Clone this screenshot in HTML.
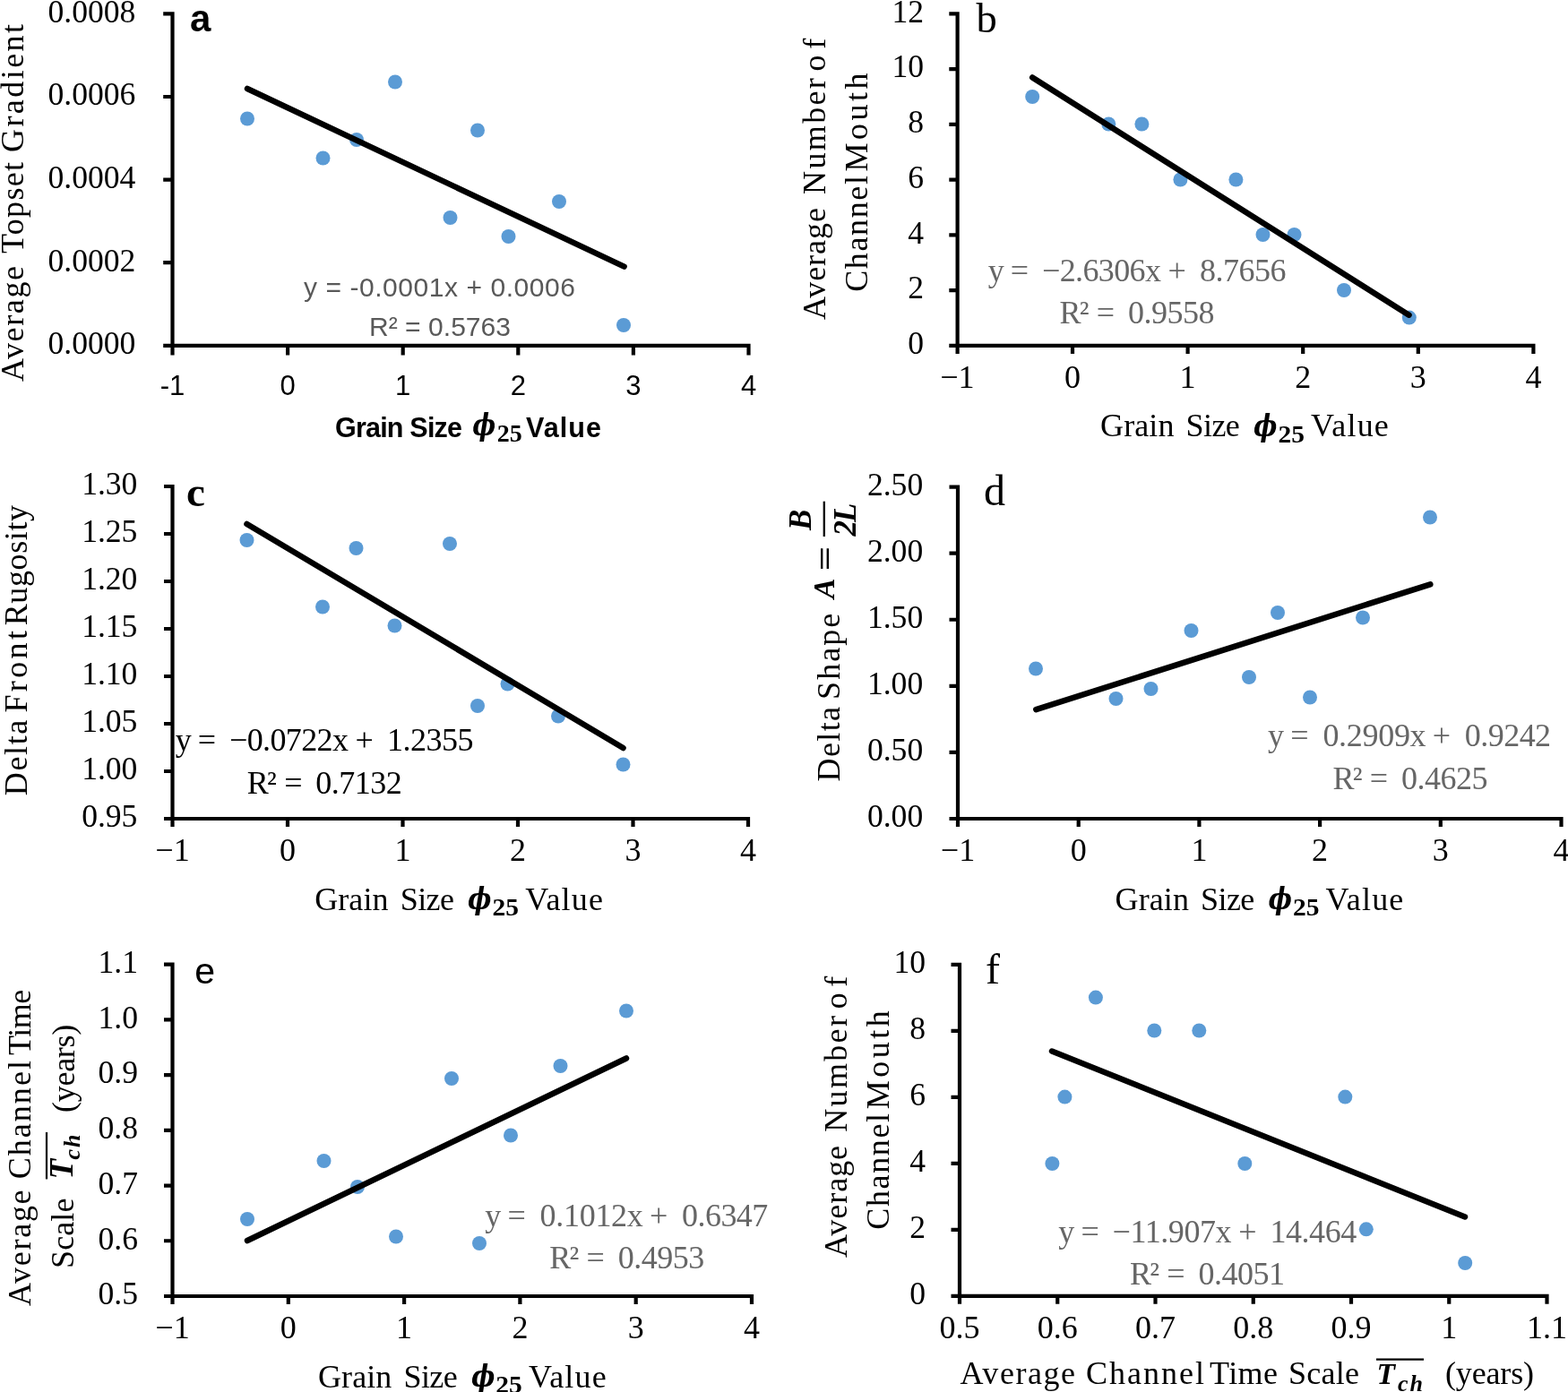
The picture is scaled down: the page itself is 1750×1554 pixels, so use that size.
<!DOCTYPE html>
<html lang="en">
<head>
<meta charset="utf-8">
<title>Grain size relationships</title>
<style>
html,body{margin:0;padding:0;background:#fff;}
body{width:1750px;height:1554px;overflow:hidden;}
svg{display:block;}
</style>
</head>
<body>
<svg width="1750" height="1554" viewBox="0 0 1750 1554">
<rect width="1750" height="1554" fill="#fff"/>
<path d="M192.5 13.3V396.4M182.2 385.8H837.6M321.1 385.8v10.6M449.7 385.8v10.6M578.3 385.8v10.6M706.9 385.8v10.6M835.5 385.8v10.6M192.5 15.4h-10.3M192.5 108h-10.3M192.5 200.6h-10.3M192.5 293.2h-10.3" stroke="#000" stroke-width="4.2" fill="none"/>
<text x="151.3" y="24.7" font-size="35.6" font-family='"Liberation Serif", serif' text-anchor="end">0.0008</text>
<text x="151.3" y="117.3" font-size="35.6" font-family='"Liberation Serif", serif' text-anchor="end">0.0006</text>
<text x="151.3" y="209.9" font-size="35.6" font-family='"Liberation Serif", serif' text-anchor="end">0.0004</text>
<text x="151.3" y="302.5" font-size="35.6" font-family='"Liberation Serif", serif' text-anchor="end">0.0002</text>
<text x="151.3" y="395.1" font-size="35.6" font-family='"Liberation Serif", serif' text-anchor="end">0.0000</text>
<text x="192.5" y="441" font-size="31" font-family='"Liberation Sans", sans-serif' text-anchor="middle">-1</text>
<text x="321.1" y="441" font-size="31" font-family='"Liberation Sans", sans-serif' text-anchor="middle">0</text>
<text x="449.7" y="441" font-size="31" font-family='"Liberation Sans", sans-serif' text-anchor="middle">1</text>
<text x="578.3" y="441" font-size="31" font-family='"Liberation Sans", sans-serif' text-anchor="middle">2</text>
<text x="706.9" y="441" font-size="31" font-family='"Liberation Sans", sans-serif' text-anchor="middle">3</text>
<text x="835.5" y="441" font-size="31" font-family='"Liberation Sans", sans-serif' text-anchor="middle">4</text>
<circle cx="276" cy="132.5" r="8" fill="#5b9bd5"/>
<circle cx="360.5" cy="176.5" r="8" fill="#5b9bd5"/>
<circle cx="398" cy="156" r="8" fill="#5b9bd5"/>
<circle cx="441" cy="91.5" r="8" fill="#5b9bd5"/>
<circle cx="502.5" cy="243" r="8" fill="#5b9bd5"/>
<circle cx="533" cy="145.5" r="8" fill="#5b9bd5"/>
<circle cx="567.5" cy="264" r="8" fill="#5b9bd5"/>
<circle cx="624" cy="225" r="8" fill="#5b9bd5"/>
<circle cx="696" cy="363" r="8" fill="#5b9bd5"/>
<path d="M276 99L696.6 297.6" stroke="#000" stroke-width="6.5" stroke-linecap="round" fill="none"/>
<text x="339" y="331" font-size="30" font-family='"Liberation Sans", sans-serif' fill="#595959" textLength="303" lengthAdjust="spacing">y = -0.0001x + 0.0006</text>
<text x="412" y="375" font-size="30" font-family='"Liberation Sans", sans-serif' fill="#595959" textLength="158" lengthAdjust="spacing">R² = 0.5763</text>
<text x="212" y="35" font-size="42" font-family='"Liberation Sans", sans-serif' font-weight="bold">a</text>
<text transform="translate(26 0) rotate(-90)" y="0" font-size="36" font-family='"Liberation Serif", serif'><tspan x="-426.00" textLength="129.00" lengthAdjust="spacing">Average</tspan> <tspan x="-283.00" textLength="102.00" lengthAdjust="spacing">Topset</tspan> <tspan x="-170.00" textLength="143.00" lengthAdjust="spacing">Gradient</tspan></text>
<text y="488" font-size="30.5" font-family='"Liberation Sans", sans-serif' font-weight="bold"><tspan x="374.00" textLength="142.00" lengthAdjust="spacing">Grain Size</tspan> <tspan x="527.3" y="485.8" font-family='"DejaVu Serif", "Liberation Serif", serif' font-weight="bold" font-style="italic" font-size="33" textLength="26" lengthAdjust="spacingAndGlyphs">ϕ</tspan><tspan x="554.8" y="492.5" font-family='"Liberation Serif", serif' font-weight="bold" font-size="26.5" textLength="28" lengthAdjust="spacingAndGlyphs">25</tspan> <tspan x="587.00" textLength="84.00" lengthAdjust="spacing" y="488">Value</tspan></text>
<path d="M1068.6 13.3V395M1059.3 385.8H1713.5M1197 385.8v9.2M1325.6 385.8v9.2M1454.2 385.8v9.2M1582.8 385.8v9.2M1711.4 385.8v9.2M1068.6 15.4h-9.3M1068.6 77.1333h-9.3M1068.6 138.867h-9.3M1068.6 200.6h-9.3M1068.6 262.333h-9.3M1068.6 324.067h-9.3" stroke="#000" stroke-width="4.2" fill="none"/>
<text x="1031" y="24.7" font-size="35.6" font-family='"Liberation Serif", serif' text-anchor="end">12</text>
<text x="1031" y="86.4333" font-size="35.6" font-family='"Liberation Serif", serif' text-anchor="end">10</text>
<text x="1031" y="148.167" font-size="35.6" font-family='"Liberation Serif", serif' text-anchor="end">8</text>
<text x="1031" y="209.9" font-size="35.6" font-family='"Liberation Serif", serif' text-anchor="end">6</text>
<text x="1031" y="271.633" font-size="35.6" font-family='"Liberation Serif", serif' text-anchor="end">4</text>
<text x="1031" y="333.367" font-size="35.6" font-family='"Liberation Serif", serif' text-anchor="end">2</text>
<text x="1031" y="395.1" font-size="35.6" font-family='"Liberation Serif", serif' text-anchor="end">0</text>
<text x="1068.4" y="432.5" font-size="36" font-family='"Liberation Serif", serif' text-anchor="middle">−1</text>
<text x="1197" y="432.5" font-size="36" font-family='"Liberation Serif", serif' text-anchor="middle">0</text>
<text x="1325.6" y="432.5" font-size="36" font-family='"Liberation Serif", serif' text-anchor="middle">1</text>
<text x="1454.2" y="432.5" font-size="36" font-family='"Liberation Serif", serif' text-anchor="middle">2</text>
<text x="1582.8" y="432.5" font-size="36" font-family='"Liberation Serif", serif' text-anchor="middle">3</text>
<text x="1711.4" y="432.5" font-size="36" font-family='"Liberation Serif", serif' text-anchor="middle">4</text>
<circle cx="1152.2" cy="108" r="8" fill="#5b9bd5"/>
<circle cx="1237.3" cy="138.5" r="8" fill="#5b9bd5"/>
<circle cx="1274.4" cy="138.5" r="8" fill="#5b9bd5"/>
<circle cx="1317.4" cy="200.5" r="8" fill="#5b9bd5"/>
<circle cx="1379.4" cy="200.5" r="8" fill="#5b9bd5"/>
<circle cx="1409.5" cy="262" r="8" fill="#5b9bd5"/>
<circle cx="1444.5" cy="262" r="8" fill="#5b9bd5"/>
<circle cx="1500" cy="324" r="8" fill="#5b9bd5"/>
<circle cx="1572.8" cy="354.6" r="8" fill="#5b9bd5"/>
<path d="M1152.2 86.5L1572.5 351.7" stroke="#000" stroke-width="6.5" stroke-linecap="round" fill="none"/>
<text y="313.8" font-size="36" font-family='"Liberation Serif", serif' fill="#666666"><tspan x="1102.70">y</tspan> <tspan x="1127.85">=</tspan> <tspan x="1163.00" textLength="132.90" lengthAdjust="spacing">−2.6306x</tspan> <tspan x="1303.55">+</tspan> <tspan x="1338.90" textLength="96.70" lengthAdjust="spacing">8.7656</tspan></text>
<text y="361.1" font-size="36" font-family='"Liberation Serif", serif' fill="#666666"><tspan x="1182.42" textLength="33.07" lengthAdjust="spacing">R²</tspan> <tspan x="1223.75">=</tspan> <tspan x="1258.90" textLength="96.50" lengthAdjust="spacing">0.9558</tspan></text>
<text x="1089.5" y="36" font-size="46.5" font-family='"Liberation Serif", serif'>b</text>
<text transform="translate(921.2 0) rotate(-90)" y="0" font-size="36" font-family='"Liberation Serif", serif'><tspan x="-357.10" textLength="125.10" lengthAdjust="spacing">Average</tspan> <tspan x="-216.90" textLength="129.70" lengthAdjust="spacing">Number</tspan> <tspan x="-79.39" textLength="36.59" lengthAdjust="spacing">of</tspan></text>
<text transform="translate(968 0) rotate(-90)" y="0" font-size="36" font-family='"Liberation Serif", serif'><tspan x="-325.80" textLength="129.80" lengthAdjust="spacing">Channel</tspan> <tspan x="-191.40" textLength="110.00" lengthAdjust="spacing">Mouth</tspan></text>
<text y="487.2" font-size="36" font-family='"Liberation Serif", serif'><tspan x="1228.10" textLength="82.30" lengthAdjust="spacing">Grain</tspan> <tspan x="1323.60" textLength="60.20" lengthAdjust="spacing">Size</tspan> <tspan x="1399" y="487" font-family='"DejaVu Serif", "Liberation Serif", serif' font-weight="bold" font-style="italic" font-size="33" textLength="26.5" lengthAdjust="spacingAndGlyphs">ϕ</tspan><tspan x="1426.4" y="493.7" font-family='"Liberation Serif", serif' font-weight="bold" font-size="26.5" textLength="29.5" lengthAdjust="spacingAndGlyphs">25</tspan> <tspan x="1463.10" textLength="86.70" lengthAdjust="spacing" y="487.2">Value</tspan></text>
<path d="M192.5 540.9V923M183 914H837.1M321 914v9M449.5 914v9M578 914v9M706.5 914v9M835 914v9M192.5 543h-9.5M192.5 596h-9.5M192.5 649h-9.5M192.5 702h-9.5M192.5 755h-9.5M192.5 808h-9.5M192.5 861h-9.5" stroke="#000" stroke-width="4.2" fill="none"/>
<text x="153.4" y="552.3" font-size="35.6" font-family='"Liberation Serif", serif' text-anchor="end">1.30</text>
<text x="153.4" y="605.3" font-size="35.6" font-family='"Liberation Serif", serif' text-anchor="end">1.25</text>
<text x="153.4" y="658.3" font-size="35.6" font-family='"Liberation Serif", serif' text-anchor="end">1.20</text>
<text x="153.4" y="711.3" font-size="35.6" font-family='"Liberation Serif", serif' text-anchor="end">1.15</text>
<text x="153.4" y="764.3" font-size="35.6" font-family='"Liberation Serif", serif' text-anchor="end">1.10</text>
<text x="153.4" y="817.3" font-size="35.6" font-family='"Liberation Serif", serif' text-anchor="end">1.05</text>
<text x="153.4" y="870.3" font-size="35.6" font-family='"Liberation Serif", serif' text-anchor="end">1.00</text>
<text x="153.4" y="923.3" font-size="35.6" font-family='"Liberation Serif", serif' text-anchor="end">0.95</text>
<text x="192.5" y="961" font-size="36" font-family='"Liberation Serif", serif' text-anchor="middle">−1</text>
<text x="321" y="961" font-size="36" font-family='"Liberation Serif", serif' text-anchor="middle">0</text>
<text x="449.5" y="961" font-size="36" font-family='"Liberation Serif", serif' text-anchor="middle">1</text>
<text x="578" y="961" font-size="36" font-family='"Liberation Serif", serif' text-anchor="middle">2</text>
<text x="706.5" y="961" font-size="36" font-family='"Liberation Serif", serif' text-anchor="middle">3</text>
<text x="835" y="961" font-size="36" font-family='"Liberation Serif", serif' text-anchor="middle">4</text>
<circle cx="275.5" cy="603" r="8" fill="#5b9bd5"/>
<circle cx="360" cy="677.5" r="8" fill="#5b9bd5"/>
<circle cx="397.5" cy="612" r="8" fill="#5b9bd5"/>
<circle cx="440.5" cy="698.5" r="8" fill="#5b9bd5"/>
<circle cx="502" cy="607" r="8" fill="#5b9bd5"/>
<circle cx="533" cy="788" r="8" fill="#5b9bd5"/>
<circle cx="566.5" cy="763.5" r="8" fill="#5b9bd5"/>
<circle cx="623" cy="799.5" r="8" fill="#5b9bd5"/>
<circle cx="695.5" cy="853.5" r="8" fill="#5b9bd5"/>
<path d="M275.5 585L695.5 835" stroke="#000" stroke-width="6.5" stroke-linecap="round" fill="none"/>
<text y="837.6" font-size="36" font-family='"Liberation Serif", serif' fill="#000"><tspan x="195.70">y</tspan> <tspan x="220.85">=</tspan> <tspan x="256.00" textLength="132.90" lengthAdjust="spacing">−0.0722x</tspan> <tspan x="396.55">+</tspan> <tspan x="431.90" textLength="96.70" lengthAdjust="spacing">1.2355</tspan></text>
<text y="885.5" font-size="36" font-family='"Liberation Serif", serif' fill="#000"><tspan x="275.82" textLength="33.07" lengthAdjust="spacing">R²</tspan> <tspan x="317.15">=</tspan> <tspan x="352.30" textLength="96.50" lengthAdjust="spacing">0.7132</tspan></text>
<text x="208" y="565" font-size="47" font-family='"Liberation Serif", serif' font-weight="bold">c</text>
<text transform="translate(29.7 0) rotate(-90)" y="0" font-size="36" font-family='"Liberation Serif", serif'><tspan x="-888.20" textLength="84.50" lengthAdjust="spacing">Delta</tspan> <tspan x="-795.60" textLength="91.60" lengthAdjust="spacing">Front</tspan> <tspan x="-698.30" textLength="134.40" lengthAdjust="spacing">Rugosity</tspan></text>
<text y="1015.5" font-size="36" font-family='"Liberation Serif", serif'><tspan x="351.20" textLength="82.30" lengthAdjust="spacing">Grain</tspan> <tspan x="446.70" textLength="60.20" lengthAdjust="spacing">Size</tspan> <tspan x="522.1" y="1015.3" font-family='"DejaVu Serif", "Liberation Serif", serif' font-weight="bold" font-style="italic" font-size="33" textLength="26.5" lengthAdjust="spacingAndGlyphs">ϕ</tspan><tspan x="549.5" y="1022" font-family='"Liberation Serif", serif' font-weight="bold" font-size="26.5" textLength="29.5" lengthAdjust="spacingAndGlyphs">25</tspan> <tspan x="586.20" textLength="86.70" lengthAdjust="spacing" y="1015.5">Value</tspan></text>
<path d="M1069 541.5V923M1059.5 914H1744.6M1203.7 914v9M1338.4 914v9M1473.1 914v9M1607.8 914v9M1742.5 914v9M1069 543.6h-9.5M1069 617.68h-9.5M1069 691.76h-9.5M1069 765.84h-9.5M1069 839.92h-9.5" stroke="#000" stroke-width="4.2" fill="none"/>
<text x="1030.2" y="552.9" font-size="35.6" font-family='"Liberation Serif", serif' text-anchor="end">2.50</text>
<text x="1030.2" y="626.98" font-size="35.6" font-family='"Liberation Serif", serif' text-anchor="end">2.00</text>
<text x="1030.2" y="701.06" font-size="35.6" font-family='"Liberation Serif", serif' text-anchor="end">1.50</text>
<text x="1030.2" y="775.14" font-size="35.6" font-family='"Liberation Serif", serif' text-anchor="end">1.00</text>
<text x="1030.2" y="849.22" font-size="35.6" font-family='"Liberation Serif", serif' text-anchor="end">0.50</text>
<text x="1030.2" y="923.3" font-size="35.6" font-family='"Liberation Serif", serif' text-anchor="end">0.00</text>
<text x="1069" y="961" font-size="36" font-family='"Liberation Serif", serif' text-anchor="middle">−1</text>
<text x="1203.7" y="961" font-size="36" font-family='"Liberation Serif", serif' text-anchor="middle">0</text>
<text x="1338.4" y="961" font-size="36" font-family='"Liberation Serif", serif' text-anchor="middle">1</text>
<text x="1473.1" y="961" font-size="36" font-family='"Liberation Serif", serif' text-anchor="middle">2</text>
<text x="1607.8" y="961" font-size="36" font-family='"Liberation Serif", serif' text-anchor="middle">3</text>
<text x="1742.5" y="961" font-size="36" font-family='"Liberation Serif", serif' text-anchor="middle">4</text>
<circle cx="1156" cy="746.5" r="8" fill="#5b9bd5"/>
<circle cx="1245.5" cy="780" r="8" fill="#5b9bd5"/>
<circle cx="1284.5" cy="769" r="8" fill="#5b9bd5"/>
<circle cx="1329.5" cy="704" r="8" fill="#5b9bd5"/>
<circle cx="1394" cy="756" r="8" fill="#5b9bd5"/>
<circle cx="1426" cy="684" r="8" fill="#5b9bd5"/>
<circle cx="1462" cy="778.5" r="8" fill="#5b9bd5"/>
<circle cx="1521" cy="689.5" r="8" fill="#5b9bd5"/>
<circle cx="1596" cy="577.5" r="8" fill="#5b9bd5"/>
<path d="M1156.3 792.1L1596.3 652.3" stroke="#000" stroke-width="6.5" stroke-linecap="round" fill="none"/>
<text y="833.2" font-size="36" font-family='"Liberation Serif", serif' fill="#666666"><tspan x="1415.10">y</tspan> <tspan x="1440.25">=</tspan> <tspan x="1476.40" textLength="115.20" lengthAdjust="spacing">0.2909x</tspan> <tspan x="1598.75">+</tspan> <tspan x="1634.80" textLength="96.30" lengthAdjust="spacing">0.9242</tspan></text>
<text y="881.1" font-size="36" font-family='"Liberation Serif", serif' fill="#666666"><tspan x="1487.42" textLength="33.07" lengthAdjust="spacing">R²</tspan> <tspan x="1528.75">=</tspan> <tspan x="1563.90" textLength="96.50" lengthAdjust="spacing">0.4625</tspan></text>
<text x="1098" y="564" font-size="48" font-family='"Liberation Serif", serif'>d</text>
<text transform="translate(937.2 0) rotate(-90)" y="0" font-size="36" font-family='"Liberation Serif", serif'><tspan x="-872.40" textLength="83.40" lengthAdjust="spacing">Delta</tspan> <tspan x="-780.90" textLength="96.10" lengthAdjust="spacing">Shape</tspan></text>
<text x="930.7" y="668.2" font-size="34" font-family='"Liberation Serif", serif' font-weight="bold" font-style="italic" transform="rotate(-90 930.7 668.2)">A</text>
<text x="932.4" y="637.4" transform="rotate(-90 932.4 637.4)" font-size="34" font-family='"Liberation Serif", serif' font-weight="bold" textLength="27.9" lengthAdjust="spacingAndGlyphs">=</text>
<text x="904.7" y="592" font-size="35" font-family='"Liberation Serif", serif' font-weight="bold" font-style="italic" transform="rotate(-90 904.7 592)">B</text>
<path d="M919.8 559.7V599" stroke="#000" stroke-width="2.3" fill="none"/>
<text x="954.6" y="598.5" font-size="35" font-family='"Liberation Serif", serif' font-weight="bold" font-style="italic" textLength="37" lengthAdjust="spacing" transform="rotate(-90 954.6 598.5)">2L</text>
<text y="1015.5" font-size="36" font-family='"Liberation Serif", serif'><tspan x="1244.60" textLength="82.30" lengthAdjust="spacing">Grain</tspan> <tspan x="1340.10" textLength="60.20" lengthAdjust="spacing">Size</tspan> <tspan x="1415.5" y="1015.3" font-family='"DejaVu Serif", "Liberation Serif", serif' font-weight="bold" font-style="italic" font-size="33" textLength="26.5" lengthAdjust="spacingAndGlyphs">ϕ</tspan><tspan x="1442.9" y="1022" font-family='"Liberation Serif", serif' font-weight="bold" font-size="26.5" textLength="29.5" lengthAdjust="spacingAndGlyphs">25</tspan> <tspan x="1479.60" textLength="86.70" lengthAdjust="spacing" y="1015.5">Value</tspan></text>
<path d="M192.5 1074.5V1456M183 1447H841.1M321.8 1447v9M451.1 1447v9M580.4 1447v9M709.7 1447v9M839 1447v9M192.5 1076.6h-9.5M192.5 1138.33h-9.5M192.5 1200.07h-9.5M192.5 1261.8h-9.5M192.5 1323.53h-9.5M192.5 1385.27h-9.5" stroke="#000" stroke-width="4.2" fill="none"/>
<text x="154" y="1085.9" font-size="35.6" font-family='"Liberation Serif", serif' text-anchor="end">1.1</text>
<text x="154" y="1147.63" font-size="35.6" font-family='"Liberation Serif", serif' text-anchor="end">1.0</text>
<text x="154" y="1209.37" font-size="35.6" font-family='"Liberation Serif", serif' text-anchor="end">0.9</text>
<text x="154" y="1271.1" font-size="35.6" font-family='"Liberation Serif", serif' text-anchor="end">0.8</text>
<text x="154" y="1332.83" font-size="35.6" font-family='"Liberation Serif", serif' text-anchor="end">0.7</text>
<text x="154" y="1394.57" font-size="35.6" font-family='"Liberation Serif", serif' text-anchor="end">0.6</text>
<text x="154" y="1456.3" font-size="35.6" font-family='"Liberation Serif", serif' text-anchor="end">0.5</text>
<text x="192.5" y="1494.4" font-size="36" font-family='"Liberation Serif", serif' text-anchor="middle">−1</text>
<text x="321.8" y="1494.4" font-size="36" font-family='"Liberation Serif", serif' text-anchor="middle">0</text>
<text x="451.1" y="1494.4" font-size="36" font-family='"Liberation Serif", serif' text-anchor="middle">1</text>
<text x="580.4" y="1494.4" font-size="36" font-family='"Liberation Serif", serif' text-anchor="middle">2</text>
<text x="709.7" y="1494.4" font-size="36" font-family='"Liberation Serif", serif' text-anchor="middle">3</text>
<text x="839" y="1494.4" font-size="36" font-family='"Liberation Serif", serif' text-anchor="middle">4</text>
<circle cx="276" cy="1361" r="8" fill="#5b9bd5"/>
<circle cx="361.5" cy="1296" r="8" fill="#5b9bd5"/>
<circle cx="399" cy="1325" r="8" fill="#5b9bd5"/>
<circle cx="442" cy="1380.5" r="8" fill="#5b9bd5"/>
<circle cx="504" cy="1204" r="8" fill="#5b9bd5"/>
<circle cx="535" cy="1388" r="8" fill="#5b9bd5"/>
<circle cx="570" cy="1267.5" r="8" fill="#5b9bd5"/>
<circle cx="625.5" cy="1190" r="8" fill="#5b9bd5"/>
<circle cx="699" cy="1128.5" r="8" fill="#5b9bd5"/>
<path d="M276 1385L699 1181.5" stroke="#000" stroke-width="6.5" stroke-linecap="round" fill="none"/>
<text y="1369" font-size="36" font-family='"Liberation Serif", serif' fill="#666666"><tspan x="541.30">y</tspan> <tspan x="566.45">=</tspan> <tspan x="602.60" textLength="115.20" lengthAdjust="spacing">0.1012x</tspan> <tspan x="724.95">+</tspan> <tspan x="761.00" textLength="96.30" lengthAdjust="spacing">0.6347</tspan></text>
<text y="1416.4" font-size="36" font-family='"Liberation Serif", serif' fill="#666666"><tspan x="613.22" textLength="33.07" lengthAdjust="spacing">R²</tspan> <tspan x="654.55">=</tspan> <tspan x="689.70" textLength="96.50" lengthAdjust="spacing">0.4953</tspan></text>
<text x="217.3" y="1098.3" font-size="41" font-family='"Liberation Sans", sans-serif'>e</text>
<text transform="translate(34.2 0) rotate(-90)" y="0" font-size="36" font-family='"Liberation Serif", serif'><tspan x="-1458.00" textLength="129.60" lengthAdjust="spacing">Average</tspan> <tspan x="-1316.20" textLength="132.10" lengthAdjust="spacing">Channel</tspan> <tspan x="-1178.00" textLength="73.30" lengthAdjust="spacing">Time</tspan></text>
<text transform="translate(81.9 0) rotate(-90)" y="0" font-size="36" font-family='"Liberation Serif", serif'><tspan x="-1416.00" textLength="78.50" lengthAdjust="spacing">Scale</tspan></text>
<text x="81.3" y="1316.5" font-size="37" font-family='"Liberation Serif", serif' font-weight="bold" font-style="italic" transform="rotate(-90 81.3 1316.5)">T</text>
<text x="88.5" y="1294.5" font-size="26" font-family='"Liberation Serif", serif' font-weight="bold" font-style="italic" textLength="28" lengthAdjust="spacing" transform="rotate(-90 88.5 1294.5)">ch</text>
<path d="M52 1263.9V1316.4" stroke="#000" stroke-width="2.2" fill="none"/>
<text transform="translate(82.5 0) rotate(-90)" y="0" font-size="36" font-family='"Liberation Serif", serif'><tspan x="-1242.00" textLength="98.30" lengthAdjust="spacing">(years)</tspan></text>
<text y="1548.6" font-size="36" font-family='"Liberation Serif", serif'><tspan x="355.00" textLength="82.30" lengthAdjust="spacing">Grain</tspan> <tspan x="450.50" textLength="60.20" lengthAdjust="spacing">Size</tspan> <tspan x="525.9" y="1548.4" font-family='"DejaVu Serif", "Liberation Serif", serif' font-weight="bold" font-style="italic" font-size="33" textLength="26.5" lengthAdjust="spacingAndGlyphs">ϕ</tspan><tspan x="553.3" y="1555.1" font-family='"Liberation Serif", serif' font-weight="bold" font-size="26.5" textLength="29.5" lengthAdjust="spacingAndGlyphs">25</tspan> <tspan x="590.00" textLength="86.70" lengthAdjust="spacing" y="1548.6">Value</tspan></text>
<path d="M1071 1074.7V1455.8M1061.5 1446.8H1728.6M1180.25 1446.8v9M1289.5 1446.8v9M1398.75 1446.8v9M1508 1446.8v9M1617.25 1446.8v9M1726.5 1446.8v9M1071 1076.8h-9.5M1071 1150.8h-9.5M1071 1224.8h-9.5M1071 1298.8h-9.5M1071 1372.8h-9.5" stroke="#000" stroke-width="4.2" fill="none"/>
<text x="1033" y="1086.1" font-size="35.6" font-family='"Liberation Serif", serif' text-anchor="end">10</text>
<text x="1033" y="1160.1" font-size="35.6" font-family='"Liberation Serif", serif' text-anchor="end">8</text>
<text x="1033" y="1234.1" font-size="35.6" font-family='"Liberation Serif", serif' text-anchor="end">6</text>
<text x="1033" y="1308.1" font-size="35.6" font-family='"Liberation Serif", serif' text-anchor="end">4</text>
<text x="1033" y="1382.1" font-size="35.6" font-family='"Liberation Serif", serif' text-anchor="end">2</text>
<text x="1033" y="1456.1" font-size="35.6" font-family='"Liberation Serif", serif' text-anchor="end">0</text>
<text x="1071" y="1494.4" font-size="36" font-family='"Liberation Serif", serif' text-anchor="middle">0.5</text>
<text x="1180.25" y="1494.4" font-size="36" font-family='"Liberation Serif", serif' text-anchor="middle">0.6</text>
<text x="1289.5" y="1494.4" font-size="36" font-family='"Liberation Serif", serif' text-anchor="middle">0.7</text>
<text x="1398.75" y="1494.4" font-size="36" font-family='"Liberation Serif", serif' text-anchor="middle">0.8</text>
<text x="1508" y="1494.4" font-size="36" font-family='"Liberation Serif", serif' text-anchor="middle">0.9</text>
<text x="1617.25" y="1494.4" font-size="36" font-family='"Liberation Serif", serif' text-anchor="middle">1</text>
<text x="1726.5" y="1494.4" font-size="36" font-family='"Liberation Serif", serif' text-anchor="middle">1.1</text>
<circle cx="1174.4" cy="1299" r="8" fill="#5b9bd5"/>
<circle cx="1188.4" cy="1224.6" r="8" fill="#5b9bd5"/>
<circle cx="1222.9" cy="1113.6" r="8" fill="#5b9bd5"/>
<circle cx="1288.3" cy="1150.5" r="8" fill="#5b9bd5"/>
<circle cx="1338.3" cy="1150.5" r="8" fill="#5b9bd5"/>
<circle cx="1389.3" cy="1299" r="8" fill="#5b9bd5"/>
<circle cx="1501.3" cy="1224.6" r="8" fill="#5b9bd5"/>
<circle cx="1524.8" cy="1372.3" r="8" fill="#5b9bd5"/>
<circle cx="1635.2" cy="1410" r="8" fill="#5b9bd5"/>
<path d="M1174 1173.5L1635 1358.5" stroke="#000" stroke-width="6.5" stroke-linecap="round" fill="none"/>
<text y="1386.5" font-size="36" font-family='"Liberation Serif", serif' fill="#666666"><tspan x="1181.30">y</tspan> <tspan x="1206.45">=</tspan> <tspan x="1241.60" textLength="132.90" lengthAdjust="spacing">−11.907x</tspan> <tspan x="1382.15">+</tspan> <tspan x="1417.50" textLength="96.70" lengthAdjust="spacing">14.464</tspan></text>
<text y="1434" font-size="36" font-family='"Liberation Serif", serif' fill="#666666"><tspan x="1261.02" textLength="33.07" lengthAdjust="spacing">R²</tspan> <tspan x="1302.35">=</tspan> <tspan x="1337.50" textLength="96.50" lengthAdjust="spacing">0.4051</tspan></text>
<text x="1100" y="1097.5" font-size="48" font-family='"Liberation Serif", serif'>f</text>
<text transform="translate(945 0) rotate(-90)" y="0" font-size="36" font-family='"Liberation Serif", serif'><tspan x="-1404.00" textLength="125.10" lengthAdjust="spacing">Average</tspan> <tspan x="-1263.80" textLength="129.70" lengthAdjust="spacing">Number</tspan> <tspan x="-1126.29" textLength="36.59" lengthAdjust="spacing">of</tspan></text>
<text transform="translate(991.8 0) rotate(-90)" y="0" font-size="36" font-family='"Liberation Serif", serif'><tspan x="-1372.70" textLength="129.80" lengthAdjust="spacing">Channel</tspan> <tspan x="-1238.30" textLength="110.00" lengthAdjust="spacing">Mouth</tspan></text>
<text y="1544.8" font-size="36" font-family='"Liberation Serif", serif'><tspan x="1071.50" textLength="128.50" lengthAdjust="spacing">Average</tspan> <tspan x="1212.00" textLength="132.00" lengthAdjust="spacing">Channel</tspan> <tspan x="1350.00" textLength="76.00" lengthAdjust="spacing">Time</tspan> <tspan x="1438.00" textLength="79.00" lengthAdjust="spacing">Scale</tspan></text>
<text x="1536.5" y="1544.8" font-size="33.5" font-family='"Liberation Serif", serif' font-weight="bold" font-style="italic">T</text>
<text x="1560" y="1552.5" font-size="26" font-family='"Liberation Serif", serif' font-weight="bold" font-style="italic" textLength="28" lengthAdjust="spacing">ch</text>
<path d="M1536 1517.6H1589" stroke="#000" stroke-width="2.2" fill="none"/>
<text y="1544.8" font-size="36" font-family='"Liberation Serif", serif'><tspan x="1613.00" textLength="99.00" lengthAdjust="spacing">(years)</tspan></text>
</svg>
</body>
</html>
